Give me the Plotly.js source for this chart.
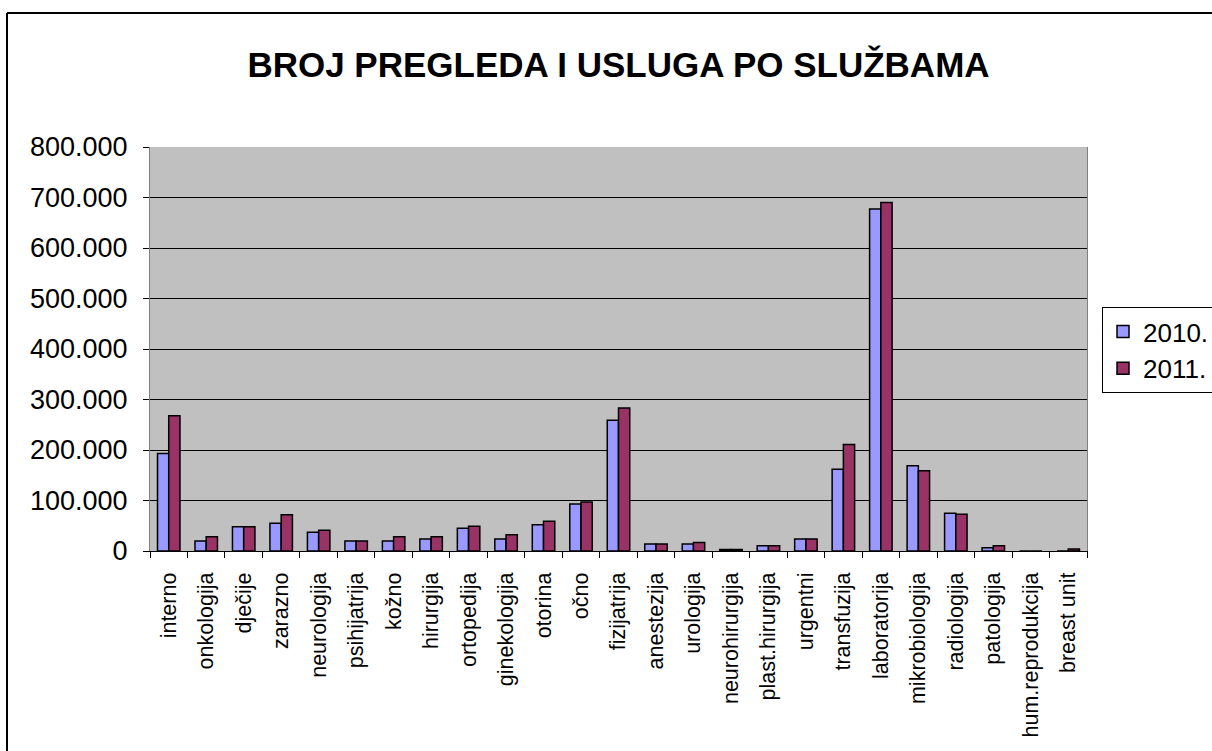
<!DOCTYPE html>
<html>
<head>
<meta charset="utf-8">
<script src="https://cdn.plot.ly/plotly-3.0.1.min.js"></script>
<style>
html,body{margin:0;padding:0;background:#fff;}
#chart{width:1212px;height:751px;}
</style>
</head>
<body>
<div id="chart"></div>
<script>
const categories = ["interno","onkologija","dječije","zarazno","neurologija","psihijatrija","kožno","hirurgija","ortopedija","ginekologija","otorina","očno","fizijatrija","anestezija","urologija","neurohirurgija","plast.hirurgija","urgentni","transfuzija","laboratorija","mikrobiologija","radiologija","patologija","hum.reprodukcija","breast unit"];
const values2010 = [193000,20000,48000,55000,37000,20000,20000,24000,45000,24000,52000,93000,259000,14000,14000,3000,10500,24000,162000,677000,169000,75000,6500,0,0];
const values2011 = [268000,28000,48000,72000,41000,20000,28000,28000,49000,32000,59000,97000,283000,14000,17000,3000,10500,24000,211000,690000,159000,73000,10500,0,4000];
const seriesNames = ["2010.","2011."];
const yTicks = [0,100000,200000,300000,400000,500000,600000,700000,800000];

const FONT = "Arial, 'Liberation Sans', sans-serif";
const W = 1212, H = 751, L = 150, R = 125, T = 147, B = 200;
const pw = W - L - R, ph = H - T - B;
const px = v => (v - L) / pw;
const py = v => (H - B - v) / ph;

const traces = [
  {type:"bar", name:seriesNames[0], x:categories, y:values2010,
   marker:{color:"#9999FF", line:{color:"#000", width:1.5}}},
  {type:"bar", name:seriesNames[1], x:categories, y:values2011,
   marker:{color:"#993366", line:{color:"#000", width:1.5}}}
];

const layout = {
  width: W, height: H,
  margin:{l:L, r:R, t:T, b:B, pad:0, autoexpand:false},
  paper_bgcolor:"#fff",
  plot_bgcolor:"#C0C0C0",
  separators:",.",
  font:{family:FONT, color:"#000"},
  title:{text:"<b>BROJ PREGLEDA I USLUGA PO SLUŽBAMA</b>", font:{family:FONT, size:35, color:"#000"},
         x:0.5, xref:"paper", xanchor:"center", y:1-65/H, yanchor:"middle"},
  barmode:"group", bargap:0.4, bargroupgap:0,
  showlegend:true,
  legend:{x:px(1102), y:py(307), xanchor:"left", yanchor:"top",
          bgcolor:"#fff", bordercolor:"#000", borderwidth:1,
          font:{family:FONT, size:26, color:"#000"}, tracegroupgap:0, itemwidth:30},
  xaxis:{type:"category", tickson:"boundaries", ticks:"outside", ticklen:6, tickcolor:"#000",
         tickangle:-90, tickfont:{family:FONT, size:21.5, color:"#000"},
         showline:true, linecolor:"#000", linewidth:1, showgrid:false, automargin:false,
         ticklabelstandoff:12},
  yaxis:{range:[0,800000], tickvals:yTicks, tickformat:",d", ticks:"outside", ticklen:6, tickcolor:"#000",
         tickfont:{family:FONT, size:27, color:"#000"}, showline:true, mirror:true, linecolor:"#808080", linewidth:1,
         showgrid:true, gridcolor:"#000", gridwidth:1, zeroline:false, automargin:false,
         ticklabelstandoff:10},
  shapes:[
    {type:"line", xref:"paper", yref:"paper", x0:px(7), x1:px(1215), y0:py(13), y1:py(13), line:{color:"#000", width:2}},
    {type:"line", xref:"paper", yref:"paper", x0:px(7), x1:px(7), y0:py(13), y1:py(760), line:{color:"#000", width:2}}
  ]
};

Plotly.newPlot("chart", traces, layout, {staticPlot:true, displayModeBar:false});
</script>
</body>
</html>
